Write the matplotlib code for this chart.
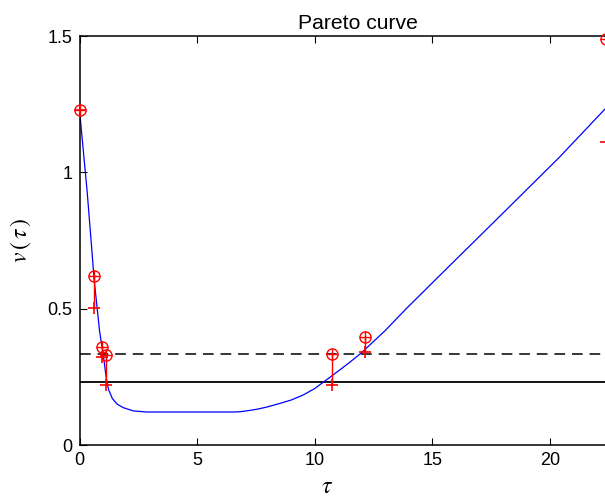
import numpy as np
import matplotlib
matplotlib.use("Agg")
import matplotlib.pyplot as plt

# Courbe de Pareto
tau_courbe = [0, 0.33, 0.63, 0.85, 1.01, 1.16, 1.25, 1.40, 1.60, 1.86, 2.29, 2.86,
              4.0, 5.5, 6.5, 6.83, 7.25, 7.6, 8.0, 8.5, 9.0, 9.5, 10.0, 10.5,
              11.0, 11.5, 12.0, 13.0, 13.88, 16.0, 18.0, 20.40, 22.34, 23.0]
v_courbe = [1.229, 0.925, 0.60, 0.42, 0.331, 0.231, 0.20, 0.17, 0.15, 0.137, 0.125, 0.121,
            0.121, 0.121, 0.121, 0.122, 0.127, 0.132, 0.140, 0.152, 0.165, 0.183, 0.207, 0.239,
            0.271, 0.304, 0.339, 0.420, 0.499, 0.68, 0.85, 1.055, 1.232, 1.29]

# Points estimés (cercles) et valeurs vraies (croix)
tau_pts = [0, 0.63, 0.97, 1.11, 10.75, 12.15, 22.38]
v_cercle = [1.229, 0.619, 0.361, 0.331, 0.335, 0.396, 1.49]
v_croix = [1.229, 0.504, 0.324, 0.219, 0.219, 0.341, 1.111]

niveau_tirets = 0.333
niveau_plein = 0.231

plt.rcParams['font.family'] = ['Liberation Sans', 'DejaVu Sans']
plt.rcParams['mathtext.fontset'] = 'stix'

fig = plt.figure(figsize=(6.05, 5.0), dpi=100)
W, H = 605, 500
x0, x1 = 79.5, 636
y0, y1 = 445, 36
ax = fig.add_axes([x0 / W, 1 - y0 / H, (x1 - x0) / W, (y0 - y1) / H])

ax.plot(tau_courbe, v_courbe, color='blue', lw=0.9, zorder=2)
ax.axhline(niveau_tirets, color='black', lw=1.1, ls=(0, (7, 4.5)), zorder=1)
ax.axhline(niveau_plein, color='black', lw=1.3, zorder=1)

for t, a, b in zip(tau_pts, v_cercle, v_croix):
    ax.plot([t, t], [a, b], color='red', lw=1.0, zorder=3)
ax.plot(tau_pts, v_cercle, 'o', mfc='none', mec='red', ms=8, mew=1.0, zorder=4, clip_on=False)
ax.plot(tau_pts, v_cercle, '+', color='red', ms=8, mew=1.0, zorder=4, clip_on=False)
ax.plot(tau_pts, v_croix, '+', color='red', ms=9, mew=1.2, zorder=4, clip_on=False)

ax.set_xlim(0, 23.66)
ax.set_ylim(0, 1.5)
ax.set_xticks([0, 5, 10, 15, 20])
ax.set_yticks([0, 0.5, 1, 1.5])
ax.set_yticklabels(['0', '0.5', '1', '1.5'])
ax.tick_params(direction='in', length=5, width=0.8, labelsize=13, top=True, right=True, pad=5)
for s in ax.spines.values():
    s.set_linewidth(1.1)

ax.set_title('Pareto curve', fontsize=15.2, pad=5)
ax.set_xlabel(r'$\tau$', fontsize=17, va='center')
ax.xaxis.set_label_coords((327 - x0) / (x1 - x0), -(487 - y0) / (y0 - y1))
ax.set_ylabel(r'$v\,(\,\tau\,)$', fontsize=17, va='center')
ax.yaxis.set_label_coords(-(x0 - 21) / (x1 - x0), 0.5)

fig.savefig('out.png', dpi=100)
